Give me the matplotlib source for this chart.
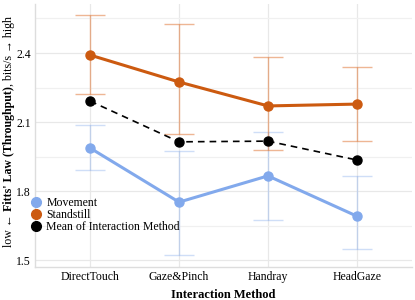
import matplotlib
matplotlib.use("Agg")
import matplotlib.pyplot as plt
import numpy as np

categories = ["DirectTouch", "Gaze&Pinch", "Handray", "HeadGaze"]
movement = [1.987, 1.752, 1.866, 1.691]
movement_lo = [1.891, 1.522, 1.674, 1.548]
movement_hi = [2.087, 1.975, 2.057, 1.866]
standstill = [2.391, 2.274, 2.170, 2.178]
standstill_lo = [2.222, 2.046, 1.978, 2.017]
standstill_hi = [2.565, 2.524, 2.384, 2.340]
mean_method = [2.191, 2.014, 2.017, 1.935]
yticks = [1.5, 1.8, 2.1, 2.4]

plt.rcParams['font.family'] = ['Liberation Serif', 'DejaVu Serif']

fig = plt.figure(figsize=(4.15, 3.0), dpi=100)
ax = fig.add_axes([35/415, 1-267/300, 377/415, 263/300])

x = np.arange(len(categories))
blue = "#82a9ec"
orange = "#cc5a10"

def err(vals, lo, hi):
    v = np.array(vals); return [v - np.array(lo), np.array(hi) - v]

ax.errorbar(x, movement, yerr=err(movement, movement_lo, movement_hi), fmt='none',
            ecolor=blue, alpha=0.38, elinewidth=1.0, capsize=11, capthick=1.0, zorder=2)
ax.errorbar(x, standstill, yerr=err(standstill, standstill_lo, standstill_hi), fmt='none',
            ecolor="#e07a3c", alpha=0.55, elinewidth=1.0, capsize=11, capthick=1.0, zorder=2)
ax.plot(x, movement, color=blue, lw=2.2, marker='o', ms=6.5, label="Movement", zorder=3)
ax.plot(x, standstill, color=orange, lw=2.2, marker='o', ms=6.5, label="Standstill", zorder=3)
ax.plot(x, mean_method, color='black', lw=1.2, ls=(0, (4, 3)), marker='o', ms=6.5,
        label="Mean of Interaction Method", zorder=4)

ax.set_xlim(-0.62, 3.62)
ax.set_ylim(1.470, 2.613)
ax.set_xticks(x)
ax.set_xticklabels(categories, fontsize=8.5)
ax.set_yticks(yticks)
ax.set_yticklabels([f"{t:.1f}" for t in yticks], fontsize=8.5)
ax.set_yticks([1.65, 1.95, 2.25, 2.55], minor=True)
ax.tick_params(axis='both', length=0, pad=3)
ax.tick_params(axis='y', which='minor', length=0)
ax.grid(True, which='major', color='#e8e8e8', lw=0.9)
ax.grid(True, which='minor', axis='y', color='#f0f0f0', lw=0.9)
ax.set_axisbelow(True)
for s in ['top', 'right']:
    ax.spines[s].set_visible(False)
for s in ['left', 'bottom']:
    ax.spines[s].set_color('#dddddd')
    ax.spines[s].set_linewidth(1.0)

ax.set_xlabel("Interaction Method", fontsize=9, fontweight='bold', labelpad=4)

leg = ax.legend(loc='upper left', bbox_to_anchor=(31/415, 1-197/300), bbox_transform=fig.transFigure,
                frameon=False, fontsize=8.5, handlelength=0.9, handletextpad=0.4,
                borderpad=0, labelspacing=0.0, borderaxespad=0)
for h in leg.legend_handles:
    h.set_linestyle('none')
    h.set_markersize(7)

# y label with mixed weights
t1 = fig.text(9/415, 1-247/300, "low ← ", rotation=90, ha='center', va='bottom', fontsize=8.6)
t2 = ax.annotate("Fitts' Law (Throughput)", xy=(0.5, 1), xycoords=t1, rotation=90,
                 ha='center', va='bottom', fontsize=8.6, fontweight='bold')
t3 = ax.annotate(", bits/s → high", xy=(0.5, 1), xycoords=t2, rotation=90,
                 ha='center', va='bottom', fontsize=8.6)

fig.savefig("out.png", dpi=100)
